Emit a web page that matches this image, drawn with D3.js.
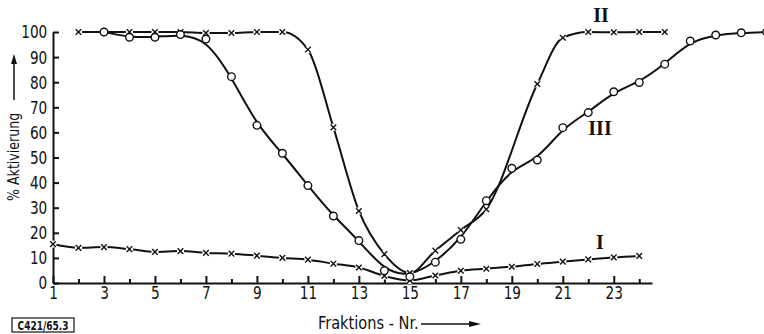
<!DOCTYPE html>
<html>
<head>
<meta charset="utf-8">
<script src="https://cdn.jsdelivr.net/npm/d3@7"></script>
<style>
  body { margin: 0; background: #fff; }
  svg { display: block; }
  text { font-family: "Liberation Sans Narrow", "DejaVu Sans Condensed", sans-serif; fill: #111; }
  .roman { font-family: "Liberation Serif", "DejaVu Serif", serif; font-weight: bold; }
</style>
</head>
<body>
<div id="chart"></div>
<script>
// Fraktion numbers and % activation
const xI = [1,2,3,4,5,6,7,8,9,10,11,12,13,14,15,16,17,18,19,20,21,22,23,24];
const yI = [15.5,14,14.3,13.5,12.4,12.7,12,11.7,10.9,10,9.3,7.7,6.2,2.8,1,3,4.9,5.7,6.5,7.6,8.5,9.4,10.2,10.8];

const xII = [2,3,4,5,6,7,8,9,10,11,12,13,14,15,16,17,18,20,21,22,23,24,25];
const yII = [100,100,100,100,100,99.6,99.6,100,100,93,62,28.7,11.5,4,12.9,21.1,29.4,79.3,97.7,100,99.9,100,100];

const xIII = [3,4,5,6,7,8,9,10,11,12,13,14,15,16,17,18,19,20,21,22,23,24,25,26,27,28,29];
const yIII = [100,97.9,97.9,99,97.2,82.2,62.8,51.7,38.8,26.7,16.9,4.9,2.5,8.3,17.4,32.8,45.7,49,61.9,67.9,76.2,79.9,87.2,96.4,98.8,99.7,100];

const majorTicksX = [1,3,5,7,9,11,13,15,17,19,21,23];
const minorTicksX = [2,4,6,8,10,12,14,16,18,20,22,24];
const ticksY = [0,10,20,30,40,50,60,70,80,90,100];

const width = 764, height = 334;

const svg = d3.select("#chart").append("svg")
    .attr("width", width)
    .attr("height", height);

svg.append("rect").attr("width", width).attr("height", height).attr("fill", "#fff");

const x = d3.scaleLinear().domain([1, 24.5]).range([53, 652]);
const y = d3.scaleLinear().domain([0, 100]).range([283, 32]);

// the print uses a tall narrow face, squeeze the condensed font a bit
const squeeze = "scale(0.82,1)";

// axes - ticks point inward like the original
const xMajor = svg.append("g")
    .attr("transform", `translate(0,${y(0)})`)
    .call(d3.axisBottom(x).tickValues(majorTicksX).tickSizeInner(-7).tickSizeOuter(0).tickPadding(3).tickFormat(d3.format("d")));
const xMinor = svg.append("g")
    .attr("transform", `translate(0,${y(0)})`)
    .call(d3.axisBottom(x).tickValues(minorTicksX).tickSizeInner(-4).tickSizeOuter(0).tickFormat(""));
xMinor.select(".domain").remove();

const yAxis = svg.append("g")
    .attr("transform", `translate(${x(1)},0)`)
    .call(d3.axisLeft(y).tickValues(ticksY).tickSizeInner(-6).tickSizeOuter(0).tickPadding(7));

[xMajor, xMinor, yAxis].forEach(g => {
    g.selectAll("path, line").attr("stroke", "#111").attr("stroke-width", 2);
    g.selectAll("text").attr("font-size", 18.5).attr("fill", "#111")
        .attr("transform", squeeze)
        .style("font-family", '"Liberation Sans Narrow", "DejaVu Sans Condensed", sans-serif');
});

// curves
const lineMono = d3.line().x(d => x(d[0])).y(d => y(d[1])).curve(d3.curveMonotoneX);
const lineSmooth = d3.line().x(d => x(d[0])).y(d => y(d[1])).curve(d3.curveBasis);

const dataI = d3.zip(xI, yI);
const dataII = d3.zip(xII, yII);
const dataIII = d3.zip(xIII, yIII);

svg.append("path").datum(dataI).attr("d", lineMono)
    .attr("fill", "none").attr("stroke", "#111").attr("stroke-width", 2);
svg.append("path").datum(dataII).attr("d", lineMono)
    .attr("fill", "none").attr("stroke", "#111").attr("stroke-width", 2);
svg.append("path").datum(dataIII).attr("d", lineSmooth)
    .attr("fill", "none").attr("stroke", "#111").attr("stroke-width", 2);

// markers: crosses get a small white gap, circles are hollow
function crosses(data) {
    const g = svg.append("g");
    const m = g.selectAll("g").data(data).join("g")
        .attr("transform", d => `translate(${x(d[0])},${y(d[1])})`);
    m.append("circle").attr("r", 3.6).attr("fill", "#fff");
    m.append("path").attr("d", "M-2.8,-2.8L2.8,2.8M-2.8,2.8L2.8,-2.8")
        .attr("stroke", "#111").attr("stroke-width", 1.4);
}
crosses(dataI);
crosses(dataII);

svg.append("g").selectAll("circle").data(dataIII).join("circle")
    .attr("cx", d => x(d[0]))
    .attr("cy", d => y(d[1]))
    .attr("r", 3.8)
    .attr("fill", "#fff")
    .attr("stroke", "#111")
    .attr("stroke-width", 1.4);

// curve labels
svg.append("text").attr("class", "roman").attr("x", 601).attr("y", 22)
    .attr("text-anchor", "middle").attr("font-size", 20).text("II");
svg.append("text").attr("class", "roman").attr("x", 600).attr("y", 135)
    .attr("text-anchor", "middle").attr("font-size", 20).text("III");
svg.append("text").attr("class", "roman").attr("x", 600).attr("y", 249)
    .attr("text-anchor", "middle").attr("font-size", 20).text("I");

// y axis title with arrow
svg.append("text")
    .attr("transform", "translate(19,201) rotate(-90) scale(0.85,1)")
    .attr("font-size", 16.5)
    .text("% Aktivierung");
svg.append("line").attr("x1", 14).attr("x2", 14).attr("y1", 100).attr("y2", 62)
    .attr("stroke", "#111").attr("stroke-width", 1.5);
svg.append("path").attr("d", "M14,54L11,64L17,64Z").attr("fill", "#111");

// x axis title with arrow
svg.append("text").attr("transform", "translate(318,329) scale(0.9,1)").attr("font-size", 18)
    .text("Fraktions - Nr.");
svg.append("line").attr("x1", 421).attr("x2", 472).attr("y1", 324).attr("y2", 324)
    .attr("stroke", "#111").attr("stroke-width", 1.5);
svg.append("path").attr("d", "M481,324L469,321L469,327Z").attr("fill", "#111");

// figure code box
svg.append("rect").attr("x", 12).attr("y", 318).attr("width", 62).attr("height", 14)
    .attr("fill", "none").attr("stroke", "#111").attr("stroke-width", 1.2);
svg.append("text").attr("transform", "translate(43,329.5) scale(0.8,1)").attr("text-anchor", "middle")
    .attr("font-size", 12.5).attr("font-weight", "bold").text("C421/65.3");
</script>
</body>
</html>
